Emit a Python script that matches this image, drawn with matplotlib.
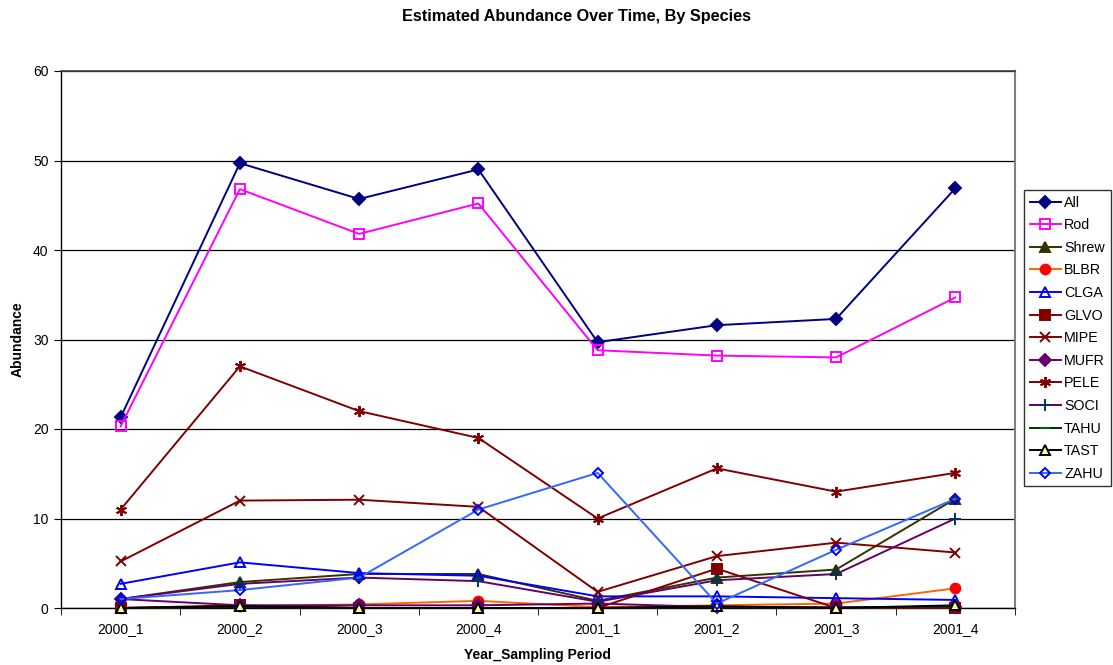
import matplotlib
matplotlib.use("Agg")
import matplotlib.pyplot as plt
from matplotlib.ticker import FixedLocator, NullFormatter

plt.rcParams['font.family'] = ['Liberation Sans', 'DejaVu Sans']

periods = ["2000_1", "2000_2", "2000_3", "2000_4", "2001_1", "2001_2", "2001_3", "2001_4"]

all_sp = [21.3, 49.7, 45.7, 49.0, 29.7, 31.6, 32.3, 46.9]
rod    = [20.3, 46.8, 41.8, 45.2, 28.8, 28.2, 28.0, 34.7]
shrew  = [1.0, 2.9, 3.8, 3.8, 0.8, 3.4, 4.3, 12.2]
blbr   = [0.0, 0.2, 0.4, 0.8, 0.1, 0.3, 0.5, 2.2]
clga   = [2.7, 5.1, 3.9, 3.6, 1.3, 1.3, 1.1, 0.9]
glvo   = [0.0, 0.3, 0.0, 0.0, 0.0, 4.4, 0.0, 0.0]
mipe   = [5.2, 12.0, 12.1, 11.3, 1.8, 5.8, 7.3, 6.2]
mufr   = [1.0, 0.3, 0.3, 0.3, 0.5, 0.1, 0.1, 0.1]
pele   = [11.0, 27.0, 22.0, 19.0, 10.0, 15.6, 13.0, 15.1]
soci   = [1.0, 2.7, 3.4, 3.0, 0.7, 3.1, 3.8, 10.0]
tahu   = [0.0, 0.1, 0.0, 0.0, 0.0, 0.1, 0.0, 0.2]
tast   = [0.0, 0.2, 0.0, 0.0, 0.0, 0.2, 0.0, 0.3]
zahu   = [1.0, 2.0, 3.4, 11.0, 15.1, 0.5, 6.5, 12.2]

# (label, values, line colour, marker, marker face, marker edge, marker size)
series = [
    ("All",   all_sp, "#000080", "D", "#000080", "#000080", 6),
    ("Rod",   rod,    "#FF00FF", "s", "none",    "#FF00FF", 7),
    ("Shrew", shrew,  "#333300", "^", "#333300", "#333300", 7),
    ("BLBR",  blbr,   "#FF6600", "o", "#FF0000", "#FF0000", 7),
    ("CLGA",  clga,   "#0000FF", "^", "none",    "#0000FF", 7),
    ("GLVO",  glvo,   "#800000", "s", "#800000", "#800000", 7),
    ("MIPE",  mipe,   "#800000", "x", "#800000", "#800000", 7),
    ("MUFR",  mufr,   "#660066", "D", "#660066", "#660066", 6),
    ("PELE",  pele,   "#800000", (6, 2, 0), "#800000", "#800000", 8),
    ("SOCI",  soci,   "#660066", "+", "#003366", "#003366", 8),
    ("TAHU",  tahu,   "#003300", "_", "#006600", "#006600", 7),
    ("TAST",  tast,   "#000000", "^", "#FFFF99", "#000000", 7),
    ("ZAHU",  zahu,   "#3366FF", "D", "none",    "#0000FF", 5),
]

fig = plt.figure(figsize=(11.13, 6.65), dpi=100)
ax = fig.add_axes([61 / 1113, 1 - 608 / 665, (1015 - 61) / 1113, (608 - 71) / 665])

x = list(range(len(periods)))
for label, vals, col, mk, mfc, mec, ms in series:
    ax.plot(x, vals, color=col, lw=1.4, marker=mk, markerfacecolor=mfc,
            markeredgecolor=mec, markersize=ms, markeredgewidth=1.4,
            label=label, clip_on=False, zorder=3)

ax.set_xlim(-0.5, len(periods) - 0.5)
ax.set_ylim(0, 60)
ax.set_yticks(range(0, 61, 10))
ax.yaxis.grid(True, color="black", lw=0.9)
ax.set_axisbelow(True)

ax.set_xticks(x)
ax.set_xticklabels(periods)
ax.tick_params(axis="x", which="major", length=0, pad=10, labelsize=10)
ax.xaxis.set_minor_locator(FixedLocator([i + 0.5 for i in range(-1, len(periods))]))
ax.xaxis.set_minor_formatter(NullFormatter())
ax.tick_params(axis="x", which="minor", length=5, direction="out", color="black")
ax.tick_params(axis="y", length=5, direction="out", labelsize=10, pad=4)

for side in ("left", "bottom"):
    ax.spines[side].set_color("black")
    ax.spines[side].set_linewidth(1.0)
ax.spines["top"].set_color("#404040")
ax.spines["top"].set_linewidth(1.2)
ax.spines["right"].set_color("#808080")
ax.spines["right"].set_linewidth(1.5)

ax.set_xlabel("Year_Sampling Period", fontsize=10, fontweight="bold", labelpad=9)
ax.set_ylabel("Abundance", fontsize=10, fontweight="bold", labelpad=6)
fig.text(577 / 1113, 1 - 17 / 665, "Estimated Abundance Over Time, By Species",
         ha="center", va="center", fontsize=11.7, fontweight="bold")

leg = ax.legend(loc="upper left", bbox_to_anchor=(1024 / 1113, 1 - 190 / 665),
                bbox_transform=fig.transFigure, frameon=True, fancybox=False,
                edgecolor="black", fontsize=10.3, handlelength=2.2,
                handletextpad=0.2, borderpad=0.4, labelspacing=0.6,
                borderaxespad=0)
leg.get_frame().set_linewidth(1.0)

fig.savefig("out.png", dpi=100)
